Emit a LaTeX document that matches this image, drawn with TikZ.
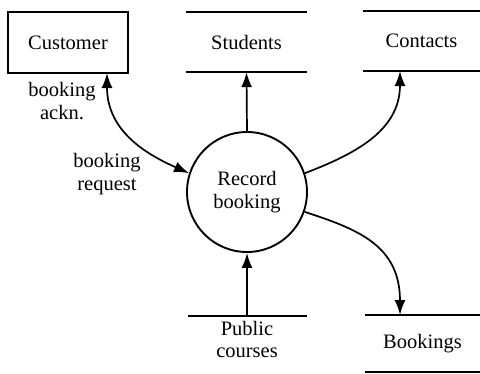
\documentclass[tikz,border=0pt]{standalone}
\usepackage{fontspec}
\setmainfont{Liberation Serif}
\usetikzlibrary{arrows.meta}
\begin{document}
\begin{tikzpicture}[x=1pt,y=-1pt,
  every node/.style={font=\fontsize{20.5}{22.5}\selectfont, align=center, inner sep=0pt},
  entity/.style={draw, line width=2pt, minimum width=120pt, minimum height=61pt},
  store/.style={minimum height=60pt},
  storeline/.style={line width=2pt},
  process/.style={circle, draw, line width=1.9pt, minimum size=120pt},
  tip/.tip={Latex[length=15pt,width=11pt]},
  flow/.style={line width=1.7pt, -tip},
  flowboth/.style={line width=1.7pt, tip-tip}]
  \useasboundingbox (0,0) rectangle (480,373);

  % external entity
  \node[entity] (cust) at (68,42.5) {Customer};

  % data stores
  \node[store, minimum width=121pt] (stu) at (246.5,42) {Students};
  \draw[storeline] (stu.north west) -- (stu.north east);
  \draw[storeline] (stu.south west) -- (stu.south east);

  \node[store, minimum width=117pt] (con) at (421.5,41) {Contacts};
  \draw[storeline] (con.north west) -- (con.north east);
  \draw[storeline] (con.south west) -- (con.south east);

  \coordinate (pubw) at (188,316);
  \coordinate (pube) at (307,316);
  \draw[storeline] (pubw) -- (pube);
  \node[anchor=north] (pub) at (247,321) {Public\\courses};

  \node[store, minimum width=115pt, minimum height=57pt] (bkg) at (422.5,343.5) {Bookings};
  \draw[storeline] (bkg.north west) -- (bkg.north east);
  \draw[storeline] (bkg.south west) -- (bkg.south east);

  % process
  \node[process] (rec) at (247,192) {Record\\booking};

  % flows
  \coordinate (custout) at (107,73);
  \coordinate (pubin) at (247,316);
  \draw[flowboth] (custout) .. controls (107,132) and (148,155) .. (rec.162);
  \draw[flow] (rec.north) -- (stu.south);
  \draw[flow] (rec.18) .. controls (352,155) and (400,132) .. (400,71);
  \draw[flow] (rec.-19) .. controls (357,229) and (400,245) .. (400,315);
  \draw[flow] (pubin) -- (rec.south);

  % flow labels
  \node (lack) at (62,101) {booking\\ackn.};
  \node (lreq) at (107,174) {booking\\request};
\end{tikzpicture}
\end{document}
